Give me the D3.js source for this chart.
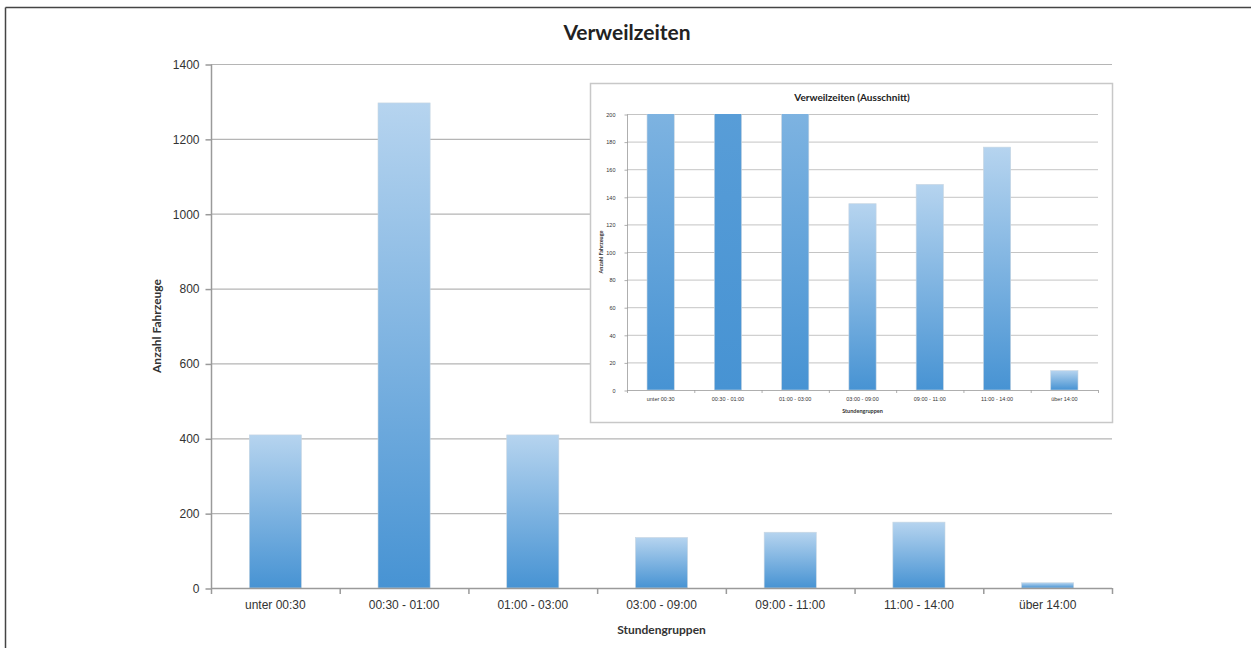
<!DOCTYPE html>
<html>
<head>
<meta charset="utf-8">
<script src="https://cdn.jsdelivr.net/npm/d3@7"></script>
<style>
  html, body { margin: 0; padding: 0; background: #fff; }
  svg { display: block; font-family: Lato, "Open Sans", sans-serif; }
</style>
</head>
<body>
<svg id="chart" width="1251" height="648"></svg>
<script>
// Verweilzeiten: Anzahl Fahrzeuge je Stundengruppe
const categories = ["unter 00:30", "00:30 - 01:00", "01:00 - 03:00", "03:00 - 09:00", "09:00 - 11:00", "11:00 - 14:00", "über 14:00"];
const counts = [409, 1296, 409, 135, 149, 176, 14];
const mainTicks = [0, 200, 400, 600, 800, 1000, 1200, 1400];
const insetTicks = [0, 20, 40, 60, 80, 100, 120, 140, 160, 180, 200];

const svg = d3.select("#chart");
const data = categories.map((c, i) => ({ cat: c, value: counts[i] }));

// shared vertical gradient for every bar (light top, stronger blue bottom)
const defs = svg.append("defs");
const grad = defs.append("linearGradient")
  .attr("id", "barGrad").attr("x1", 0).attr("y1", 0).attr("x2", 0).attr("y2", 1);
grad.append("stop").attr("offset", "0%").attr("stop-color", "#b6d4ef");
grad.append("stop").attr("offset", "100%").attr("stop-color", "#4793d3");

// page frame (top and left rules)
svg.append("line").attr("x1", 5.5).attr("x2", 1251).attr("y1", 7.5).attr("y2", 7.5)
  .attr("stroke", "#444").attr("stroke-width", 1.5);
svg.append("line").attr("x1", 5.5).attr("x2", 5.5).attr("y1", 7.5).attr("y2", 648)
  .attr("stroke", "#444").attr("stroke-width", 1.5);

function drawChart(g, opt) {
  const x = d3.scaleBand().domain(categories).range([opt.left, opt.right]).paddingInner(0.595).paddingOuter(0.2975);
  const y = d3.scaleLinear().domain([0, opt.max]).range([opt.bottom, opt.top]);
  const clipId = opt.id + "-clip";
  g.append("clipPath").attr("id", clipId).append("rect")
    .attr("x", opt.left).attr("y", opt.top).attr("width", opt.right - opt.left).attr("height", opt.bottom - opt.top);

  // gridlines
  g.append("g").selectAll("line").data(opt.ticks.filter(t => t > 0)).join("line")
    .attr("x1", opt.left).attr("x2", opt.right)
    .attr("y1", d => y(d) + 0.5).attr("y2", d => y(d) + 0.5)
    .attr("stroke", "#b5b5b5").attr("stroke-width", opt.gridW);

  // bars, each gradient spanning the full value, clipped to the plot
  g.append("g").attr("clip-path", `url(#${clipId})`).selectAll("rect").data(data).join("rect")
    .attr("x", d => x(d.cat)).attr("width", x.bandwidth())
    .attr("y", d => y(d.value)).attr("height", d => y(0) - y(d.value))
    .attr("fill", "url(#barGrad)")
    .attr("stroke", "#c8d6e2").attr("stroke-width", 0.6);

  // y axis
  const yAxis = d3.axisLeft(y).tickValues(opt.ticks).tickSize(opt.tick).tickPadding(opt.pad).tickFormat(d3.format("d"));
  const ya = g.append("g").attr("transform", `translate(${opt.left + 0.5},0.5)`).call(yAxis);
  ya.select(".domain").attr("stroke", "#9a9a9a").attr("stroke-width", opt.axisW).attr("d", `M0,${opt.top}V${opt.bottom}`);
  ya.selectAll(".tick line").attr("stroke", "#9a9a9a").attr("stroke-width", opt.axisW);
  ya.selectAll("text").attr("fill", "#333").style("font-size", opt.font + "px");

  // x axis
  const xAxis = d3.axisBottom(x).tickSize(0).tickPadding(opt.xpad);
  const xa = g.append("g").attr("transform", `translate(0,${opt.bottom + 0.5})`).call(xAxis);
  xa.select(".domain").attr("stroke", "#9a9a9a").attr("stroke-width", opt.axisW).attr("d", `M${opt.left},0H${opt.right}`);
  xa.selectAll("text").attr("fill", "#333").style("font-size", opt.font + "px");
  // category separators
  const step = x.step();
  g.append("g").selectAll("line").data(d3.range(categories.length + 1)).join("line")
    .attr("x1", i => opt.left + i * (opt.right - opt.left) / categories.length + 0.5)
    .attr("x2", i => opt.left + i * (opt.right - opt.left) / categories.length + 0.5)
    .attr("y1", opt.bottom).attr("y2", opt.bottom + opt.tick)
    .attr("stroke", "#9a9a9a").attr("stroke-width", opt.axisW);

  // titles
  g.append("text").attr("x", opt.titleX).attr("y", opt.titleY).attr("text-anchor", "middle")
    .attr("font-weight", "bold").attr("fill", "#222").style("font-size", opt.titleFont + "px").text(opt.title);
  g.append("text").attr("x", (opt.left + opt.right) / 2).attr("y", opt.xTitleY).attr("text-anchor", "middle")
    .attr("font-weight", "bold").attr("fill", "#333").style("font-size", opt.labelFont + "px").text("Stundengruppen");
  g.append("text").attr("transform", `translate(${opt.yTitleX},${(opt.top + opt.bottom) / 2}) rotate(-90)`)
    .attr("text-anchor", "middle").attr("font-weight", "bold").attr("fill", "#333")
    .style("font-size", opt.labelFont + "px").text("Anzahl Fahrzeuge");
}

// main chart
drawChart(svg.append("g"), {
  id: "main", left: 211, right: 1112, top: 64, bottom: 588, max: 1400, ticks: mainTicks,
  tick: 6, pad: 6, xpad: 12, font: 12, gridW: 1.2, axisW: 1.5,
  title: "Verweilzeiten", titleX: 627, titleY: 40, titleFont: 21,
  xTitleY: 634, yTitleX: 161, labelFont: 12
});

// inset chart (detail up to 200)
const inset = svg.append("g");
inset.append("rect").attr("x", 590.5).attr("y", 83.5).attr("width", 522).attr("height", 339)
  .attr("fill", "#fff").attr("stroke", "#c8c8c8").attr("stroke-width", 1.5);
drawChart(inset, {
  id: "inset", left: 627, right: 1098, top: 114, bottom: 390, max: 200, ticks: insetTicks,
  tick: 3, pad: 9, xpad: 7, font: 5.5, gridW: 0.8, axisW: 0.8,
  title: "Verweilzeiten (Ausschnitt)", titleX: 852, titleY: 101, titleFont: 10,
  xTitleY: 413, yTitleX: 603, labelFont: 5.5
});
</script>
</body>
</html>
